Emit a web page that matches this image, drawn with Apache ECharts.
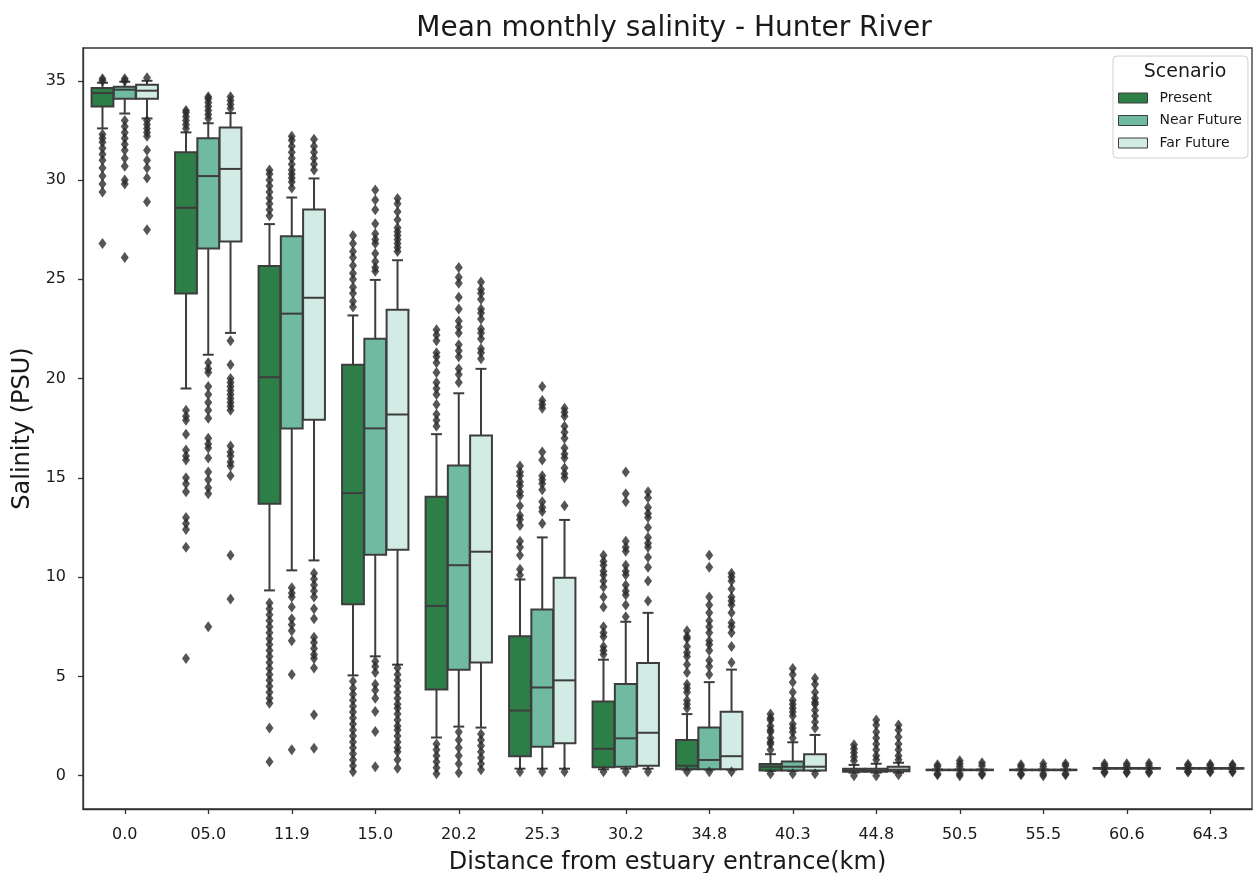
<!DOCTYPE html>
<html>
<head>
<meta charset="utf-8">
<script src="https://cdn.jsdelivr.net/npm/echarts@6/dist/echarts.min.js"></script>
<style>
  html, body { margin: 0; padding: 0; background: #ffffff; }
  #chart { width: 1253px; height: 873px; }
</style>
</head>
<body>
<div id="chart"></div>
<script>
// ---------------- DATA ----------------
const categories = ['0.0', '05.0', '11.9', '15.0', '20.2', '25.3', '30.2', '34.8', '40.3', '44.8', '50.5', '55.5', '60.6', '64.3'];
const scenarios = ['Present', 'Near Future', 'Far Future'];
const yTicks = [0, 5, 10, 15, 20, 25, 30, 35];

// box stats per category: [lower whisker, Q1, median, Q3, upper whisker]
const presentStats = [
  [32.6, 33.7, 34.38, 34.63, 34.9],
  [19.5, 24.28, 28.6, 31.4, 32.4],
  [9.33, 13.7, 20.07, 25.67, 27.78],
  [5.05, 8.63, 14.23, 20.69, 23.18],
  [1.92, 4.34, 8.55, 14.05, 17.2],
  [0.35, 0.98, 3.28, 7.02, 9.88],
  [0.32, 0.42, 1.35, 3.74, 5.84],
  [0.3, 0.32, 0.5, 1.79, 3.1],
  [0.24, 0.26, 0.45, 0.59, 1.08],
  [0.15, 0.2, 0.27, 0.35, 0.54],
  [0.27, 0.28, 0.29, 0.3, 0.31],
  [0.27, 0.28, 0.29, 0.3, 0.31],
  [0.35, 0.36, 0.37, 0.38, 0.39],
  [0.35, 0.36, 0.37, 0.38, 0.39]
];
const nearStats = [
  [33.35, 34.1, 34.55, 34.7, 34.95],
  [21.2, 26.55, 30.2, 32.1, 32.86],
  [10.34, 17.49, 23.27, 27.17, 29.12],
  [6.01, 11.13, 17.49, 22.0, 24.97],
  [2.47, 5.33, 10.6, 15.62, 19.26],
  [0.35, 1.45, 4.44, 8.37, 12.0],
  [0.35, 0.45, 1.88, 4.62, 7.75],
  [0.3, 0.32, 0.79, 2.42, 4.71],
  [0.24, 0.26, 0.45, 0.71, 1.68],
  [0.15, 0.2, 0.27, 0.35, 0.6],
  [0.27, 0.28, 0.29, 0.3, 0.31],
  [0.27, 0.28, 0.29, 0.3, 0.31],
  [0.35, 0.36, 0.37, 0.38, 0.39],
  [0.35, 0.36, 0.37, 0.38, 0.39]
];
const farStats = [
  [33.1, 34.1, 34.5, 34.8, 35.0],
  [22.3, 26.9, 30.56, 32.65, 33.37],
  [10.84, 17.93, 24.07, 28.52, 30.08],
  [5.59, 11.38, 18.19, 23.47, 25.96],
  [2.42, 5.7, 11.28, 17.13, 20.49],
  [0.35, 1.63, 4.8, 9.97, 12.88],
  [0.35, 0.5, 2.16, 5.67, 8.2],
  [0.3, 0.32, 0.98, 3.22, 5.34],
  [0.24, 0.26, 0.45, 1.08, 2.05],
  [0.15, 0.22, 0.3, 0.45, 0.65],
  [0.27, 0.28, 0.29, 0.3, 0.31],
  [0.27, 0.28, 0.29, 0.3, 0.31],
  [0.35, 0.36, 0.37, 0.38, 0.39],
  [0.35, 0.36, 0.37, 0.38, 0.39]
];

// outliers per category
const presentOutliers = [
  [35.0, 35.1, 32.3, 32.1, 31.9, 31.6, 31.3, 31.0, 30.6, 30.2, 29.8, 29.4, 26.8],
  [32.6, 32.8, 33.0, 33.2, 33.4, 33.5, 18.4, 18.1, 17.9, 17.2, 16.4, 16.1, 15.9, 15.0, 14.7, 14.3, 13.0, 12.7, 12.4, 11.5, 5.9],
  [28.2, 28.5, 28.8, 29.1, 29.4, 29.7, 30.0, 30.3, 30.5, 8.7, 8.4, 8.1, 7.8, 7.5, 7.2, 6.9, 6.6, 6.3, 6.0, 5.7, 5.4, 5.1, 4.8, 4.5, 4.2, 3.9, 3.65, 2.4, 0.7],
  [23.6, 23.9, 24.3, 24.6, 25.0, 25.3, 25.7, 26.1, 26.4, 26.8, 27.2, 4.75, 4.4, 4.1, 3.8, 3.5, 3.2, 2.9, 2.6, 2.3, 2.0, 1.7, 1.4, 1.1, 0.8, 0.5, 0.2],
  [17.6, 17.9, 18.2, 18.7, 19.2, 19.5, 19.8, 20.3, 20.8, 21.1, 21.3, 21.9, 22.2, 22.46, 1.6, 1.3, 1.0, 0.7, 0.4, 0.1],
  [15.6, 15.3, 15.1, 14.8, 14.6, 14.3, 14.1, 13.6, 13.1, 12.9, 12.6, 11.8, 11.5, 11.1, 10.4, 10.1, 0.2],
  [11.1, 10.8, 10.6, 10.3, 10.1, 9.8, 9.5, 9.0, 8.5, 7.5, 7.2, 7.0, 6.5, 6.3, 6.1, 0.2],
  [7.3, 7.0, 6.9, 6.5, 6.2, 6.0, 5.6, 5.2, 4.6, 4.4, 4.2, 3.8, 3.6, 3.4, 0.2],
  [3.1, 2.9, 2.8, 2.5, 2.3, 2.2, 1.9, 1.7, 1.6, 1.3, 0.1],
  [1.55, 1.35, 1.15, 0.95, 0.75, 0.0],
  [0.55, 0.45, 0.1, 0.05],
  [0.55, 0.45, 0.1, 0.05],
  [0.6, 0.5, 0.2, 0.15],
  [0.58, 0.5, 0.22, 0.18]
];
const nearOutliers = [
  [35.0, 35.1, 33.0, 32.7, 32.4, 32.1, 31.8, 31.5, 31.1, 30.7, 30.0, 29.8, 26.1],
  [33.1, 33.3, 33.5, 33.7, 33.9, 34.1, 34.2, 20.8, 20.5, 20.3, 19.6, 19.2, 18.8, 18.4, 18.0, 17.0, 16.7, 16.5, 16.0, 15.3, 14.9, 14.5, 14.2, 7.5],
  [29.6, 29.9, 30.1, 30.3, 30.5, 30.8, 31.1, 31.4, 31.7, 32.0, 32.2, 9.46, 9.2, 9.0, 8.5, 7.9, 7.6, 7.3, 6.8, 5.1, 1.3],
  [25.4, 25.6, 25.9, 26.3, 26.8, 27.0, 27.3, 27.8, 28.5, 29.0, 29.5, 5.76, 5.5, 5.2, 4.6, 4.3, 3.9, 3.23, 2.22, 0.45],
  [19.8, 20.2, 20.5, 21.1, 21.4, 21.7, 22.3, 22.6, 22.9, 23.5, 24.1, 24.8, 25.1, 25.6, 2.2, 1.8, 1.4, 1.0, 0.6, 0.15],
  [19.6, 18.9, 18.7, 18.5, 16.3, 15.9, 15.1, 14.9, 14.7, 14.4, 13.8, 13.5, 13.3, 12.7, 0.2],
  [15.3, 14.2, 13.8, 11.8, 11.5, 11.3, 10.6, 10.3, 10.1, 9.6, 9.3, 9.1, 8.6, 8.0, 0.2],
  [11.1, 10.5, 9.0, 8.6, 8.2, 7.8, 7.5, 7.2, 6.8, 6.6, 6.3, 5.8, 5.5, 5.1, 0.2],
  [5.4, 5.1, 4.7, 4.2, 3.8, 3.6, 3.4, 3.2, 3.0, 2.6, 2.4, 2.2, 1.9, 0.1],
  [2.8, 2.55, 2.2, 1.9, 1.6, 1.3, 1.0, 0.8, 0.0],
  [0.75, 0.6, 0.45, 0.1, 0.0],
  [0.6, 0.45, 0.1, 0.0],
  [0.6, 0.5, 0.2, 0.15],
  [0.58, 0.5, 0.22, 0.18]
];
const farOutliers = [
  [35.15, 33.0, 32.8, 32.6, 32.4, 32.2, 31.5, 31.0, 30.6, 30.1, 28.9, 27.5],
  [33.6, 33.8, 34.0, 34.2, 21.9, 20.7, 20.0, 19.8, 19.6, 19.4, 19.2, 19.0, 18.8, 18.6, 18.4, 16.6, 16.3, 16.1, 15.8, 15.6, 15.1, 11.1, 8.9],
  [30.5, 30.8, 31.1, 31.4, 31.7, 32.05, 10.2, 9.9, 9.6, 9.3, 9.0, 8.4, 7.9, 6.97, 6.7, 6.4, 6.1, 5.9, 5.42, 3.07, 1.38],
  [26.4, 26.6, 26.8, 27.0, 27.2, 27.4, 27.6, 28.0, 28.4, 28.8, 29.07, 5.42, 5.1, 4.8, 4.5, 4.2, 3.9, 3.6, 3.4, 3.1, 2.8, 2.5, 2.3, 2.0, 1.7, 1.4, 1.2, 0.8, 0.37],
  [21.0, 21.3, 21.5, 22.0, 22.3, 22.5, 23.0, 23.3, 23.5, 24.0, 24.3, 24.5, 24.86, 2.1, 1.8, 1.5, 1.2, 0.9, 0.6, 0.3],
  [18.5, 18.3, 18.1, 17.6, 17.3, 17.0, 16.5, 16.2, 16.0, 15.5, 15.2, 15.0, 13.6, 0.2],
  [14.3, 14.0, 13.5, 13.2, 13.0, 12.5, 12.0, 11.7, 11.5, 11.0, 10.5, 9.8, 8.8, 0.2],
  [10.2, 10.0, 9.8, 9.4, 9.0, 8.8, 8.6, 8.2, 7.7, 7.5, 7.2, 6.5, 5.7, 0.2],
  [4.9, 4.6, 4.2, 3.9, 3.7, 3.6, 3.3, 3.0, 2.7, 2.4, 0.1],
  [2.55, 2.3, 1.95, 1.6, 1.3, 1.0, 0.8, 0.05],
  [0.65, 0.5, 0.1, 0.05],
  [0.6, 0.5, 0.1, 0.05],
  [0.62, 0.5, 0.2, 0.15],
  [0.56, 0.5, 0.22, 0.18]
];

// ---------------- STYLE ----------------
const fillColors = ['#2e7e48', '#6fbaa0', '#d2ebe5'];
const edgeColor = '#3d3d3d';
const FONT = 'DejaVu Sans';
const hueOffsets = [-0.2667, 0, 0.2667];
const boxW = 0.2613;

const statsList = [presentStats, nearStats, farStats];
const outlierList = [presentOutliers, nearOutliers, farOutliers];

function renderBox(params, api) {
  const h = params.seriesIndex;
  const x = api.value(0) + hueOffsets[h];
  const lo = api.value(1), q1 = api.value(2), med = api.value(3), q3 = api.value(4), hi = api.value(5);
  const w = api.size([boxW, 0])[0];
  const cx = api.coord([x, 0])[0];
  const yLo = api.coord([x, lo])[1], yQ1 = api.coord([x, q1])[1], yMed = api.coord([x, med])[1];
  const yQ3 = api.coord([x, q3])[1], yHi = api.coord([x, hi])[1];
  const capHalf = w / 4;
  const ls = { stroke: edgeColor, lineWidth: 2 };
  return {
    type: 'group',
    children: [
      { type: 'line', shape: { x1: cx, y1: yQ1, x2: cx, y2: yLo }, style: ls },
      { type: 'line', shape: { x1: cx, y1: yQ3, x2: cx, y2: yHi }, style: ls },
      { type: 'line', shape: { x1: cx - capHalf, y1: yLo, x2: cx + capHalf, y2: yLo }, style: ls },
      { type: 'line', shape: { x1: cx - capHalf, y1: yHi, x2: cx + capHalf, y2: yHi }, style: ls },
      { type: 'rect', shape: { x: cx - w / 2, y: yQ3, width: w, height: Math.max(yQ1 - yQ3, 0.5) },
        style: { fill: fillColors[h], stroke: edgeColor, lineWidth: 2 } },
      { type: 'line', shape: { x1: cx - w / 2, y1: yMed, x2: cx + w / 2, y2: yMed }, style: ls }
    ]
  };
}

const series = [];
scenarios.forEach((name, h) => {
  series.push({
    name: name,
    type: 'custom',
    renderItem: renderBox,
    itemStyle: { color: fillColors[h], borderColor: edgeColor, borderWidth: 1 },
    encode: { x: 0, y: [1, 2, 3, 4, 5] },
    data: statsList[h].map((s, i) => [i].concat(s)),
    z: 2
  });
});
scenarios.forEach((name, h) => {
  const pts = [];
  outlierList[h].forEach((arr, i) => arr.forEach(v => pts.push([i + hueOffsets[h], v])));
  series.push({
    name: name + ' outliers',
    type: 'scatter',
    data: pts,
    symbol: 'diamond',
    symbolSize: [8, 11],
    itemStyle: { color: '#2a2a2a' },
    silent: true,
    z: 3
  });
});

const catTicks = categories.map((c, i) => i);

const chart = echarts.init(document.getElementById('chart'), null, { renderer: 'canvas' });
chart.setOption({
  animation: false,
  backgroundColor: '#ffffff',
  title: [
    { text: 'Mean monthly salinity - Hunter River', left: 669, top: 10, textAlign: 'center',
      textStyle: { fontFamily: FONT, fontSize: 28, fontWeight: 'normal', color: '#1a1a1a' } },
    { text: 'Scenario', left: 1180, top: 58, textAlign: 'center',
      textStyle: { fontFamily: FONT, fontSize: 19, fontWeight: 'normal', color: '#1a1a1a' } }
  ],
  legend: {
    data: scenarios,
    orient: 'vertical',
    left: 1113,
    top: 56,
    padding: [35, 6, 8, 5],
    itemWidth: 29,
    itemHeight: 10,
    itemGap: 8.5,
    icon: 'rect',
    borderColor: '#d0d0d0',
    borderWidth: 1,
    borderRadius: 4,
    itemStyle: { borderColor: edgeColor, borderWidth: 1 },
    textStyle: { fontFamily: FONT, fontSize: 14, color: '#1a1a1a', padding: [0, 0, 0, 7] }
  },
  grid: { left: 83, right: 1, top: 48, bottom: 64, show: true, borderColor: '#333333', borderWidth: 1.3,
          containLabel: false, outerBoundsMode: 'none' },
  xAxis: {
    type: 'value',
    min: -0.5,
    max: 13.5,
    name: 'Distance from estuary entrance(km)',
    nameLocation: 'middle',
    nameGap: 42,
    nameTextStyle: { fontFamily: FONT, fontSize: 24, color: '#1a1a1a' },
    axisLine: { show: true, onZero: false, lineStyle: { color: '#333333', width: 1.3 } },
    axisTick: { show: true, length: 5, customValues: catTicks, lineStyle: { color: '#333333', width: 1.3 } },
    axisLabel: { customValues: catTicks, formatter: v => categories[Math.round(v)], fontFamily: FONT, fontSize: 16, color: '#1a1a1a', margin: 18 },
    splitLine: { show: false }
  },
  yAxis: {
    type: 'value',
    min: -1.68,
    max: 36.65,
    name: 'Salinity (PSU)',
    nameLocation: 'middle',
    nameGap: 47,
    nameTextStyle: { fontFamily: FONT, fontSize: 24, color: '#1a1a1a' },
    axisLine: { show: true, onZero: false, lineStyle: { color: '#333333', width: 1.3 } },
    axisTick: { show: true, length: 5, customValues: yTicks, lineStyle: { color: '#333333', width: 1.3 } },
    axisLabel: { customValues: yTicks, fontFamily: FONT, fontSize: 16, color: '#1a1a1a', margin: 17 },
    splitLine: { show: false }
  },
  series: series
});
</script>
</body>
</html>
